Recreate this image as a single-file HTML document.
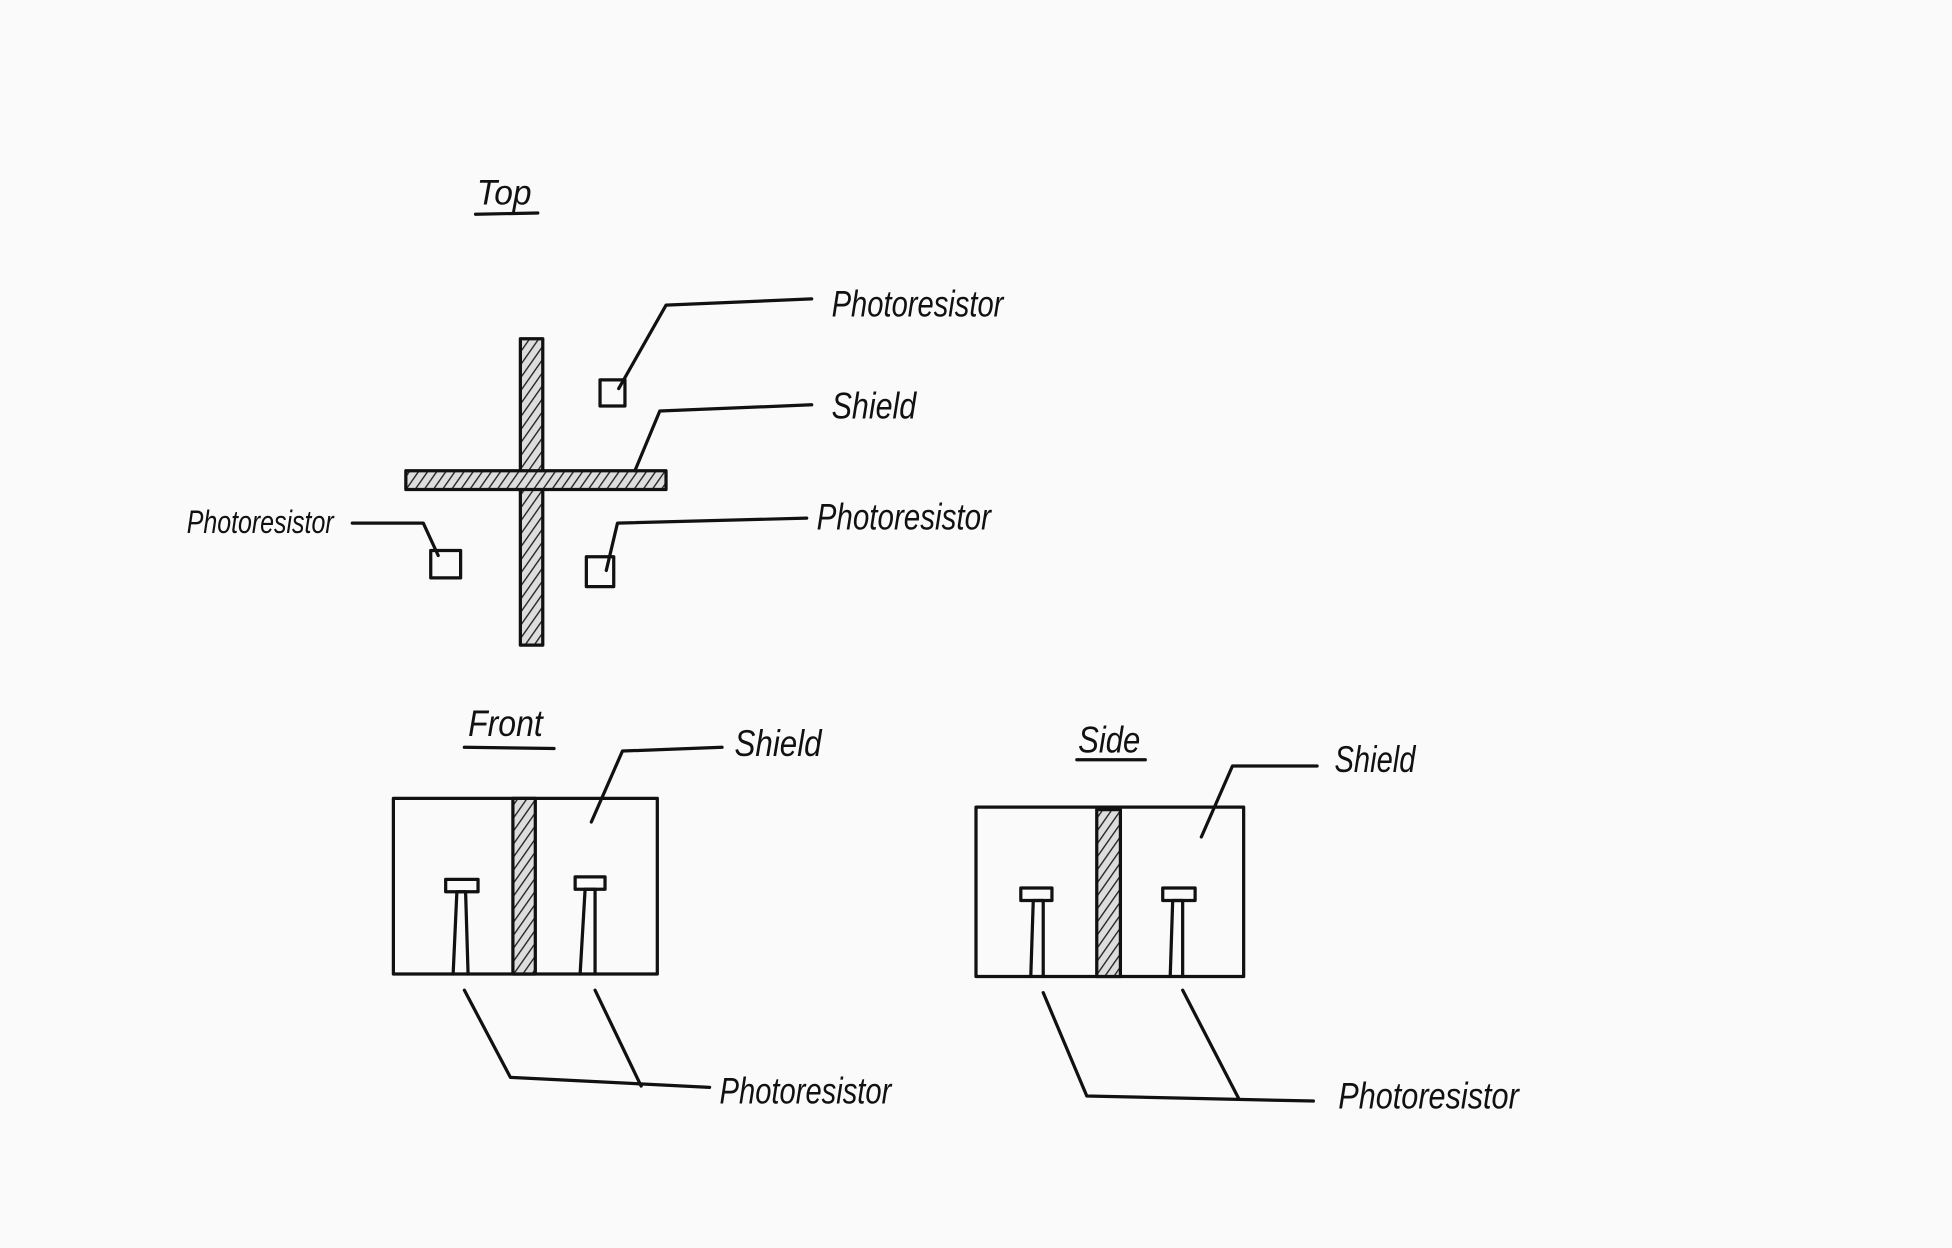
<!DOCTYPE html>
<html><head><meta charset="utf-8"><style>
html,body{margin:0;padding:0;background:#fbfafa;}
svg{display:block}
text{font-family:"Liberation Sans",sans-serif;fill:#111;font-style:italic}
</style></head><body>
<svg width="1952" height="1248" viewBox="0 0 1568 1002" preserveAspectRatio="none">
<defs>
<pattern id="h" width="6" height="6" patternUnits="userSpaceOnUse" patternTransform="rotate(35)">
<rect width="6" height="6" fill="#ddd"/><line x1="0" y1="0" x2="0" y2="6" stroke="#222" stroke-width="2.2"/></pattern>
</defs>
<rect width="1568" height="1002" fill="#fbfafa"/>
<g stroke="#111" stroke-width="2.6" fill="none" stroke-linecap="round" stroke-linejoin="round">
<g>
<text x="383" y="164" font-size="28" stroke="none" textLength="44" lengthAdjust="spacingAndGlyphs">Top</text>
<line x1="382" y1="172" x2="432" y2="171"/>
<rect x="418" y="272" width="18" height="246" fill="url(#h)"/>
<rect x="326" y="378" width="209" height="15" fill="url(#h)"/>
<rect x="482" y="305" width="20" height="21"/>
<rect x="346" y="442" width="24" height="22"/>
<rect x="471" y="447" width="22" height="24"/>
<polyline points="497,312 535,245 652,240"/>
<polyline points="510,378 530,330 652,325"/>
<polyline points="487,458 496,420 648,416"/>
<polyline points="283,420 340,420 352,446"/>
<text x="668" y="254" font-size="30" stroke="none" textLength="138" lengthAdjust="spacingAndGlyphs">Photoresistor</text>
<text x="668" y="336" font-size="30" stroke="none" textLength="68" lengthAdjust="spacingAndGlyphs">Shield</text>
<text x="656" y="425" font-size="30" stroke="none" textLength="140" lengthAdjust="spacingAndGlyphs">Photoresistor</text>
<text x="150" y="428" font-size="26" stroke="none" textLength="118" lengthAdjust="spacingAndGlyphs">Photoresistor</text>
</g>
<g>
<text x="376" y="591" font-size="30" stroke="none" textLength="60" lengthAdjust="spacingAndGlyphs">Front</text>
<line x1="373" y1="600" x2="445" y2="601"/>
<rect x="316" y="641" width="212" height="141"/>
<rect x="412" y="641" width="18" height="141" fill="url(#h)"/>
<rect x="358" y="706" width="26" height="10"/>
<polyline points="364,782 367,716 374,716 376,782"/>
<rect x="462" y="704" width="24" height="10"/>
<polyline points="466,782 470,714 478,714 478,782"/>
<polyline points="475,660 500,603 580,600"/>
<polyline points="373,795 410,865 570,873"/>
<polyline points="478,795 515,872"/>
<text x="590" y="607" font-size="30" stroke="none" textLength="70" lengthAdjust="spacingAndGlyphs">Shield</text>
<text x="578" y="886" font-size="30" stroke="none" textLength="138" lengthAdjust="spacingAndGlyphs">Photoresistor</text>
</g>
<g>
<text x="866" y="604" font-size="30" stroke="none" textLength="50" lengthAdjust="spacingAndGlyphs">Side</text>
<line x1="865" y1="610" x2="920" y2="610"/>
<rect x="784" y="648" width="215" height="136"/>
<rect x="881" y="650" width="19" height="134" fill="url(#h)"/>
<rect x="820" y="713" width="25" height="10"/>
<polyline points="828,784 830,723 838,723 838,784"/>
<rect x="934" y="713" width="26" height="10"/>
<polyline points="940,784 942,723 950,723 950,784"/>
<polyline points="965,672 990,615 1058,615"/>
<polyline points="838,797 873,880 1055,884"/>
<polyline points="950,795 995,882"/>
<text x="1072" y="620" font-size="30" stroke="none" textLength="65" lengthAdjust="spacingAndGlyphs">Shield</text>
<text x="1075" y="890" font-size="30" stroke="none" textLength="145" lengthAdjust="spacingAndGlyphs">Photoresistor</text>
</g>
</g>
</svg>
</body></html>
